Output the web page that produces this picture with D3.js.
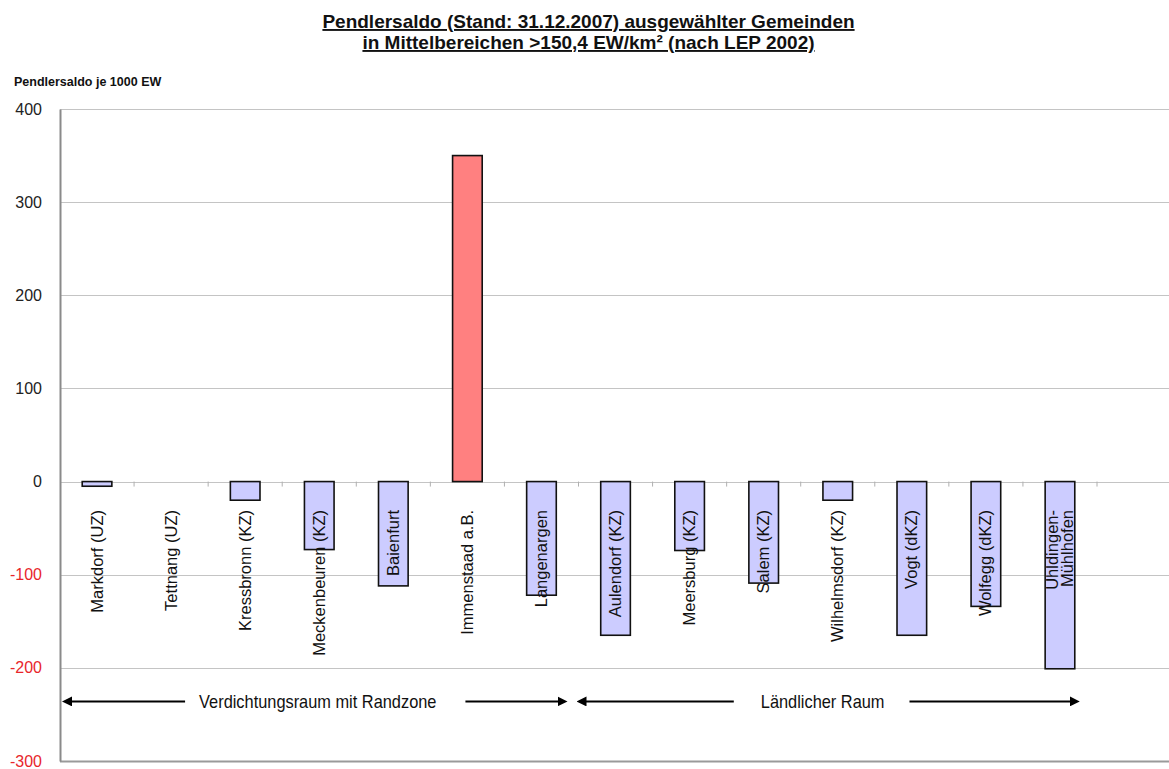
<!DOCTYPE html>
<html>
<head>
<meta charset="utf-8">
<script src="https://cdn.jsdelivr.net/npm/d3@7"></script>
<style>
  html, body { margin: 0; padding: 0; background: #fff; }
  svg { display: block; font-family: "Liberation Sans", Arial, sans-serif; }
</style>
</head>
<body>
<svg id="chart" width="1169" height="769"></svg>
<script>
// Pendlersaldo je 1000 Einwohner, Stand 31.12.2007
const categories = [
  "Markdorf (UZ)", "Tettnang (UZ)", "Kressbronn (KZ)", "Meckenbeuren (KZ)",
  "Baienfurt", "Immenstaad a.B.", "Langenargen", "Aulendorf (KZ)",
  "Meersburg (KZ)", "Salem (KZ)", "Wilhelmsdorf (KZ)", "Vogt (dKZ)",
  "Wolfegg (dKZ)", "Uhldingen-\nMühlhofen"
];
const values = [-5, 0, -20, -73, -112, 350, -122, -165, -74, -109, -20, -165, -134, -201];
const positiveSaldo = ["Immenstaad a.B."];

const yTicks = [400, 300, 200, 100, 0, -100, -200, -300];

// Raumkategorien: first and last category of each span
const regionLabels = ["Verdichtungsraum mit Randzone", "Ländlicher Raum"];
const regionStart = ["Markdorf (UZ)", "Aulendorf (KZ)"];
const regionEnd = ["Langenargen", "Uhldingen-\nMühlhofen"];

const titleLines = [
  "Pendlersaldo (Stand: 31.12.2007) ausgewählter Gemeinden",
  "in Mittelbereichen >150,4 EW/km² (nach LEP 2002)"
];
const yAxisTitle = "Pendlersaldo je 1000 EW";

const svg = d3.select("#chart");
const W = 1169;
const plot = { left: 60, right: 1169, top: 109, bottom: 761, bandEnd: 1097 };

const x = d3.scaleBand()
  .domain(categories)
  .range([plot.left, plot.bandEnd])
  .paddingInner(0.6)
  .paddingOuter(0.3);

const y = d3.scaleLinear()
  .domain([-300, 400])
  .range([plot.bottom, plot.top]);

// Title
const title = svg.append("g");
titleLines.forEach((t, i) => {
  title.append("text")
    .attr("x", W / 2 + 4)
    .attr("y", 28 + i * 21)
    .attr("text-anchor", "middle")
    .attr("font-size", 19)
    .attr("font-weight", "bold")
    .attr("text-decoration", "underline")
    .attr("fill", "#111")
    .text(t);
});

svg.append("text")
  .attr("x", 14)
  .attr("y", 86)
  .attr("font-size", 12.5)
  .attr("font-weight", "bold")
  .attr("fill", "#111")
  .text(yAxisTitle);

// Gridlines
svg.append("g")
  .selectAll("line")
  .data(yTicks)
  .join("line")
  .attr("x1", plot.left)
  .attr("x2", plot.right)
  .attr("y1", d => Math.round(y(d)) + 0.5)
  .attr("y2", d => Math.round(y(d)) + 0.5)
  .attr("stroke", d => d === -300 ? "#9a9a9a" : "#c4c4c4")
  .attr("stroke-width", d => d === -300 ? 2 : 1.2);

// Y axis with red negative labels
const yAxis = d3.axisLeft(y)
  .tickValues(yTicks)
  .tickSize(0)
  .tickPadding(18)
  .tickFormat(d => String(d));

const yg = svg.append("g")
  .attr("transform", `translate(${plot.left},0)`)
  .call(yAxis);
yg.select(".domain").attr("stroke", "#8a8a8a").attr("stroke-width", 2);
yg.selectAll(".tick text")
  .attr("font-size", 16)
  .attr("font-family", "Liberation Sans, Arial, sans-serif")
  .attr("fill", d => d < 0 ? "#e8262b" : "#222");

// Category separators on the zero line
const sepX = categories.map((c, i) => plot.left + (i + 1) * x.step());
svg.append("g")
  .selectAll("line")
  .data(sepX)
  .join("line")
  .attr("x1", d => d).attr("x2", d => d)
  .attr("y1", y(0)).attr("y2", y(0) + 5)
  .attr("stroke", "#b0b0b0")
  .attr("stroke-width", 1);

// Bars
svg.append("g")
  .selectAll("rect")
  .data(categories.map((c, i) => ({ c, v: values[i] })).filter(d => d.v !== 0))
  .join("rect")
  .attr("x", d => x(d.c))
  .attr("width", x.bandwidth())
  .attr("y", d => y(Math.max(0, d.v)))
  .attr("height", d => Math.abs(y(d.v) - y(0)))
  .attr("fill", d => positiveSaldo.includes(d.c) ? "#ff8080" : "#ccccff")
  .attr("stroke", "#111")
  .attr("stroke-width", 1.6);

// Category labels, rotated
const labels = svg.append("g");
categories.forEach(c => {
  const lines = c.split("\n");
  const cx = x(c) + x.bandwidth() / 2;
  const t = labels.append("text")
    .attr("transform", `translate(${cx},${510}) rotate(-90)`)
    .attr("text-anchor", "end")
    .attr("font-size", 16.5)
    .attr("fill", "#111");
  lines.forEach((l, i) => {
    t.append("tspan")
      .attr("x", 0)
      .attr("dy", i === 0 ? (5.5 - (lines.length - 1) * 7.5) : 15)
      .text(l);
  });
});

// Region arrows
const defs = svg.append("defs");
const mk = (id, path) => defs.append("marker")
  .attr("id", id)
  .attr("viewBox", "0 0 10 10")
  .attr("refX", 5).attr("refY", 5)
  .attr("markerWidth", 10).attr("markerHeight", 10)
  .attr("markerUnits", "userSpaceOnUse")
  .attr("orient", "auto")
  .append("path").attr("d", path).attr("fill", "#000");
mk("arrowEnd", "M0,0 L10,5 L0,10 Z");
mk("arrowStart", "M10,0 L0,5 L10,10 Z");

const ay = y(-236);
const gaps = [[14, 29], [27, 25]];
const labelShift = [3, -5.5];
const squeeze = 0.91;
const regions = svg.append("g");
regionLabels.forEach((lab, i) => {
  const left = i === 0 ? plot.left + 2 : x(regionStart[i]) - x.step() * 0.3 - 2;
  const right = i === 0 ? x(regionEnd[i]) + x.bandwidth() + x.step() * 0.3 - 11 : x(regionEnd[i]) + x.bandwidth() + 5;
  const mid = (left + right) / 2 + labelShift[i];
  // slightly condensed label
  const txt = regions.append("text")
    .attr("transform", `translate(${mid},${ay + 6.5}) scale(${squeeze},1)`)
    .attr("text-anchor", "middle")
    .attr("font-size", 18)
    .attr("fill", "#111")
    .text(lab);
  const w = txt.node().getComputedTextLength() * squeeze;
  regions.append("line")
    .attr("x1", left + 5).attr("x2", mid - w / 2 - gaps[i][0])
    .attr("y1", ay).attr("y2", ay)
    .attr("stroke", "#000").attr("stroke-width", 2)
    .attr("marker-start", "url(#arrowStart)");
  regions.append("line")
    .attr("x1", mid + w / 2 + gaps[i][1]).attr("x2", right - 5)
    .attr("y1", ay).attr("y2", ay)
    .attr("stroke", "#000").attr("stroke-width", 2)
    .attr("marker-end", "url(#arrowEnd)");
});
</script>
</body>
</html>
